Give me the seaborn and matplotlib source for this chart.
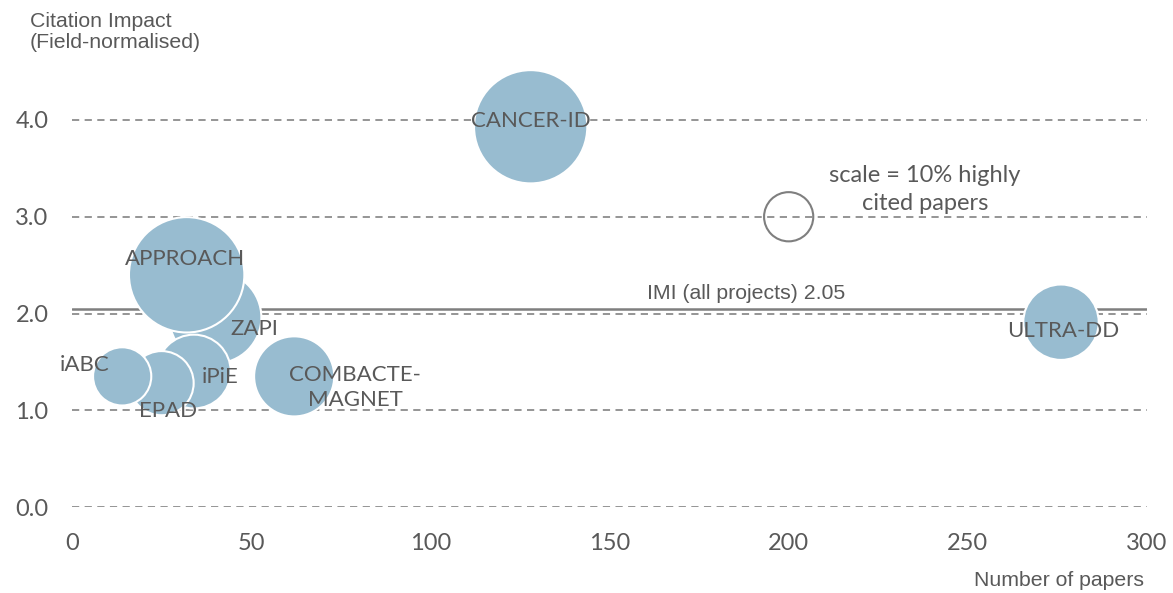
import numpy as np
import pandas as pd
import matplotlib
matplotlib.use("Agg")
import matplotlib.pyplot as plt
from matplotlib.colors import Normalize
import seaborn as sns

# =============================================================================
# DATA
# =============================================================================

PROJECTS = ['CANCER-ID', 'ULTRA-DD', 'ZAPI', 'APPROACH', 'iPiE', 'EPAD', 'iABC',
            'COMBACTE-\nMAGNET']
PAPERS = [128, 276, 40, 32, 34, 25, 14, 62]
IMPACT = [3.93, 1.91, 1.96, 2.40, 1.40, 1.28, 1.35, 1.35]
HIGHLY_CITED = [53, 23.5, 35, 55, 22.5, 17, 14, 26.5]   # % highly cited papers

IMI_AVERAGE = 2.05
IMI_LABEL = f"IMI (all projects) {IMI_AVERAGE:.2f}"

SCALE_PCT = 10
SCALE_PAPERS = 200
SCALE_IMPACT = 3.0
SCALE_LABEL = "scale = 10% highly\ncited papers"

X_TICKS = [0, 50, 100, 150, 200, 250, 300]
Y_TICKS = [0.0, 1.0, 2.0, 3.0, 4.0]

# =============================================================================
# STYLE
# =============================================================================

BUBBLE_COLOR = '#98BCD0'
TEXT_COLOR = '#595959'
GRID_COLOR = '#8C8C8C'
LINE_COLOR = '#7F7F7F'
S_PER_PCT = 125.5   # marker area (pt^2) per 1% highly cited
ARIAL = ['Liberation Sans', 'DejaVu Sans']

# label offsets in points, relative to bubble centre
LABEL_OFFSETS = {
    'CANCER-ID': (0, 4),
    'ULTRA-DD': (1.5, -6),
    'ZAPI': (28, -8.5),
    'APPROACH': (-1.5, 11.5),
    'iPiE': (19, -4),
    'EPAD': (4.5, -20),
    'iABC': (-27, 8.5),
    'COMBACTE-\nMAGNET': (44, -8),
}

W, H = 1173, 593


def main():
    df = pd.DataFrame({'Project': PROJECTS, 'Papers': PAPERS,
                       'Impact': IMPACT, 'HighlyCited': HIGHLY_CITED})

    sns.set_theme(style="white")
    plt.rcParams['font.family'] = ['Lato', 'DejaVu Sans']

    fig = plt.figure(figsize=(W / 100, H / 100), dpi=100)
    ax = fig.add_axes([72 / W, 1 - 507 / H, 1075 / W, 4.5 * 96.75 / H])

    vmin, vmax = min(HIGHLY_CITED), max(HIGHLY_CITED)
    sns.scatterplot(
        data=df, x='Papers', y='Impact', size='HighlyCited',
        sizes=(vmin * S_PER_PCT, vmax * S_PER_PCT),
        size_norm=Normalize(vmin, vmax),
        color=BUBBLE_COLOR, edgecolor='white', linewidth=1.5, alpha=1,
        legend=False, ax=ax, zorder=3, clip_on=False,
    )

    # scale reference bubble
    ax.scatter([SCALE_PAPERS], [SCALE_IMPACT], s=SCALE_PCT * S_PER_PCT,
               facecolor='none', edgecolor=LINE_COLOR, linewidth=1.5, zorder=3)
    ax.text(238, 3.28, SCALE_LABEL, ha='center', va='center', fontsize=17,
            color=TEXT_COLOR, linespacing=1.4, zorder=4)

    # IMI reference line
    ax.axhline(IMI_AVERAGE, color=LINE_COLOR, linewidth=1.8, zorder=2)
    ax.annotate(IMI_LABEL, (188, IMI_AVERAGE), xytext=(0, 4),
                textcoords='offset points', ha='center', va='bottom',
                fontsize=15.3, color=TEXT_COLOR, family=ARIAL)

    # bubble labels
    for _, row in df.iterrows():
        dx, dy = LABEL_OFFSETS[row['Project']]
        ax.annotate(row['Project'], (row['Papers'], row['Impact']),
                    xytext=(dx, dy), textcoords='offset points',
                    ha='center', va='center', multialignment='center',
                    fontsize=16, color=TEXT_COLOR, zorder=5,
                    linespacing=1.35, annotation_clip=False)

    ax.set_xlim(0, 300)
    ax.set_ylim(0, 4.5)
    ax.set_xticks(X_TICKS)
    ax.set_yticks(Y_TICKS)
    ax.set_yticklabels([f"{v:.1f}" for v in Y_TICKS])
    ax.tick_params(axis='both', length=0, labelsize=17, labelcolor=TEXT_COLOR)
    ax.tick_params(axis='y', pad=17)
    ax.tick_params(axis='x', pad=19)
    ax.grid(axis='y', linestyle=(0, (4, 3)), color=GRID_COLOR, linewidth=1.3)
    ax.grid(axis='x', visible=False)
    ax.set_axisbelow(True)
    for s in ax.spines.values():
        s.set_visible(False)
    ax.set_xlabel("")
    ax.set_ylabel("")

    fig.text(30 / W, 1 - 12 / H, "Citation Impact\n(Field-normalised)",
             ha='left', va='top', fontsize=15.3, color=TEXT_COLOR,
             family=ARIAL, linespacing=1.15)
    fig.text(1144 / W, 1 - 581 / H, "Number of papers", ha='right', va='center',
             fontsize=15.3, color=TEXT_COLOR, family=ARIAL)

    fig.savefig("out.png", dpi=100)
    plt.close(fig)


if __name__ == "__main__":
    main()
